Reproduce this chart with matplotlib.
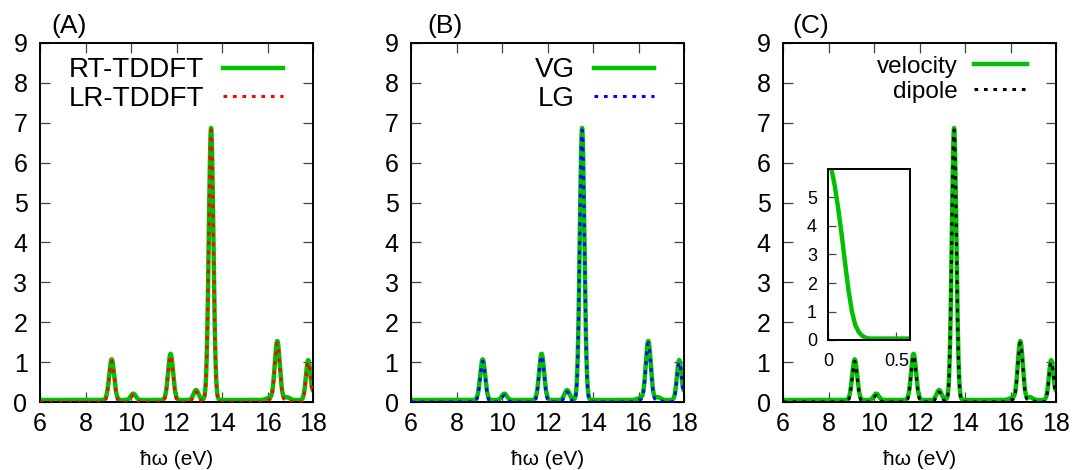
import matplotlib.pyplot as plt
import numpy as np

plt.rcParams["font.family"] = ["Liberation Sans", "DejaVu Sans"]

# peaks: energy (eV), height, gaussian width (eV)
peak_energy = [9.15, 10.10, 11.74, 12.86, 13.52, 16.05, 16.43, 16.86, 17.79, 18.22]
peak_height = [1.02, 0.16, 1.16, 0.25, 6.82, 0.05, 1.48, 0.07, 1.00, 0.90]
peak_width = [0.11, 0.11, 0.11, 0.11, 0.10, 0.12, 0.11, 0.11, 0.10, 0.11]
# the solid (time-propagated / velocity gauge) curves sit slightly above zero
solid_offset = 0.05

# low-energy part shown in the inset of (C)
inset_energy = [0.0, 0.025, 0.05, 0.075, 0.1, 0.125, 0.15, 0.175, 0.2, 0.225,
                0.25, 0.275, 0.3, 0.4, 0.5, 0.6]
inset_velocity = [6.3, 6.0, 5.4, 4.6, 3.7, 2.7, 1.75, 1.0, 0.52, 0.28,
                  0.15, 0.08, 0.05, 0.05, 0.05, 0.05]
inset_dipole = [0.0] * len(inset_energy)

panel_names = ["(A)", "(B)", "(C)"]
solid_labels = ["RT-TDDFT", "VG", "velocity"]
dotted_labels = ["LR-TDDFT", "LG", "dipole"]
dotted_colors = ["#ff0000", "#0000ff", "#000000"]

green = "#00c000"

energy = np.linspace(6.0, 18.5, 2500)
spectrum = np.zeros_like(energy)
for e0, h, s in zip(peak_energy, peak_height, peak_width):
    spectrum += h * np.exp(-((energy - e0) ** 2) / (2 * s**2))


def style_axes(ax, labelsize, length, mirror=True):
    for sp in ax.spines.values():
        sp.set_linewidth(1.4)
    ax.tick_params(
        direction="in",
        length=length,
        width=0.9,
        color="#444444",
        top=mirror,
        right=mirror,
        labelsize=labelsize,
    )


fig = plt.figure(figsize=(10.74, 4.70), dpi=100)

lefts = [40, 411, 783]
label_x = [0.106, 0.125, 0.103]

for i, left in enumerate(lefts):
    ax = fig.add_axes([left / 1074, 68 / 470, 273 / 1074, 359 / 470])
    ax.plot(energy, spectrum + solid_offset, color=green, lw=3.2,
            label=solid_labels[i], zorder=2)
    ax.plot(energy, spectrum, color=dotted_colors[i], lw=2.2,
            linestyle=(0, (1.2, 1.9)), dash_capstyle="butt",
            label=dotted_labels[i], zorder=3)

    ax.set_xlim(6, 18)
    ax.set_ylim(0, 9)
    ax.set_xticks(range(6, 19, 2))
    ax.set_yticks(range(0, 10))
    style_axes(ax, 18, 7)
    ax.tick_params(axis="x", pad=7)
    ax.tick_params(axis="y", pad=9)
    ax.set_xlabel("ħω (eV)", fontsize=15, labelpad=10)

    ax.text(label_x[i], 1.047, panel_names[i], transform=ax.transAxes,
            ha="center", va="center", fontsize=19)

    if i < 2:
        ax.legend(loc="upper right", bbox_to_anchor=(0.89, 0.96),
                  frameon=False, markerfirst=False, fontsize=20,
                  handlelength=2.16, handletextpad=0.68,
                  labelspacing=0.08, borderpad=0, borderaxespad=0)
    else:
        ax.legend(loc="upper right", bbox_to_anchor=(0.894, 0.965),
                  frameon=False, markerfirst=False, fontsize=17.5,
                  handlelength=2.2, handletextpad=0.67,
                  labelspacing=0.14, borderpad=0, borderaxespad=0)

ins = fig.add_axes([828 / 1074, 130 / 470, 82 / 1074, 171 / 470])
ins.plot(inset_energy, inset_velocity, color=green, lw=3.2, zorder=2)
ins.plot(inset_energy, inset_dipole, color="#000000", lw=2.2,
         linestyle=(0, (1.2, 1.9)), dash_capstyle="butt", zorder=3)
ins.set_xlim(0, 0.6)
ins.set_ylim(0, 6)
ins.set_xticks([0, 0.5])
ins.set_xticklabels(["0", "0.5"])
ins.set_yticks(range(0, 6))
style_axes(ins, 13, 6, mirror=False)
ins.tick_params(axis="x", pad=9)
ins.tick_params(axis="y", pad=8)

fig.savefig("out.png", dpi=100)
